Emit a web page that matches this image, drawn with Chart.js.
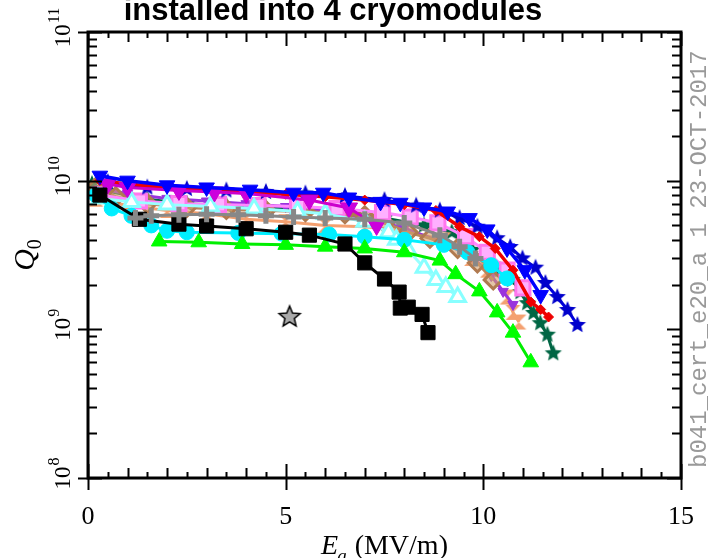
<!DOCTYPE html>
<html>
<head>
<meta charset="utf-8">
<script src="https://cdn.jsdelivr.net/npm/chart.js@4"></script>
<style>
  html, body { margin: 0; padding: 0; background: #fff; }
  #wrap { width: 708px; height: 558px; }
</style>
</head>
<body>
<div id="wrap"><canvas id="q0Chart" width="708" height="558"></canvas></div>
<script>
// axis ranges and ticks
const xMin = 0, xMax = 15;
const yMin = 1e8, yMax = 1e11;
const xLabels = [0, 5, 10, 15];
const yDecades = [8, 9, 10, 11];

// Ea (MV/m) and Q0 per cavity
const blackE = [0.3, 1.3, 2.3, 3.0, 4.0, 5.0, 5.6, 6.5, 7.0, 7.5, 7.87, 7.9, 8.1, 8.45, 8.6];
const blackQ = [8.0e9, 5.5e9, 5.1e9, 4.95e9, 4.75e9, 4.5e9, 4.3e9, 3.75e9, 2.8e9, 2.18e9, 1.78e9, 1.39e9, 1.41e9, 1.26e9, 0.95e9];

const greenE = [1.8, 2.8, 3.9, 5.0, 6.0, 7.0, 8.0, 8.9, 9.3, 9.9, 10.35, 10.75, 11.2];
const greenQ = [3.9e9, 3.85e9, 3.75e9, 3.7e9, 3.6e9, 3.5e9, 3.3e9, 2.9e9, 2.35e9, 1.8e9, 1.3e9, 0.95e9, 0.6e9];

const cyanE = [0.2, 0.6, 1.1, 1.6, 2.0, 2.5, 3.8, 4.9, 6.1, 7.0, 8.0, 9.0, 9.6, 10.2, 10.6];
const cyanQ = [8.0e9, 6.5e9, 5.8e9, 5.0e9, 4.6e9, 4.5e9, 4.45e9, 4.4e9, 4.35e9, 4.2e9, 4.0e9, 3.7e9, 3.3e9, 2.7e9, 2.2e9];

const paleE = [0.3, 1.1, 2.0, 3.1, 4.2, 5.3, 6.0, 7.0, 7.6, 7.8, 8.1, 8.5, 8.8, 9.05, 9.35];
const paleQ = [7.6e9, 7.2e9, 6.9e9, 6.7e9, 6.5e9, 6.2e9, 6.0e9, 5.3e9, 4.5e9, 4.0e9, 3.4e9, 2.6e9, 2.15e9, 1.93e9, 1.65e9];

const blueE = [0.3, 1.0, 2.0, 3.0, 4.1, 5.2, 5.95, 6.6, 7.4, 7.9, 8.5, 9.1, 9.65, 10.1, 10.6, 11.05, 11.45];
const blueQ = [1.08e10, 1.0e10, 9.3e9, 9.0e9, 8.7e9, 8.3e9, 8.3e9, 7.7e9, 7.2e9, 7.1e9, 6.6e9, 6.2e9, 5.6e9, 4.7e9, 3.5e9, 2.5e9, 1.7e9];

const starE = [0.5, 1.5, 2.5, 3.5, 4.5, 5.5, 6.5, 7.5, 8.3, 8.9, 9.4, 9.85, 10.35, 10.68, 10.99, 11.32, 11.57, 11.87, 12.13, 12.38];
const starQ = [9.8e9, 9.0e9, 8.8e9, 8.6e9, 8.4e9, 8.2e9, 7.9e9, 7.4e9, 6.8e9, 6.3e9, 5.6e9, 4.9e9, 4.1e9, 3.58e9, 3.0e9, 2.6e9, 2.05e9, 1.65e9, 1.35e9, 1.07e9];

const redE = [0.3, 1.0, 2.0, 3.0, 4.0, 5.0, 6.0, 7.0, 8.0, 8.8, 9.4, 9.9, 10.3, 10.75, 11.2, 11.45, 11.65];
const redQ = [1.0e10, 9.5e9, 9.0e9, 8.7e9, 8.4e9, 8.1e9, 7.8e9, 7.4e9, 6.9e9, 6.3e9, 4.9e9, 4.2e9, 3.5e9, 2.5e9, 1.53e9, 1.36e9, 1.21e9];

const magE = [0.5, 1.0, 2.3, 3.2, 4.0, 5.6, 6.6, 7.3];
const magQ = [9.5e9, 9.0e9, 8.6e9, 8.4e9, 8.2e9, 7.4e9, 6.55e9, 5.0e9];

const violetE = [0.3, 1.0, 2.0, 3.0, 4.0, 5.0, 6.0, 7.0, 8.0, 9.0, 9.7, 10.2, 10.5, 10.75];
const violetQ = [8.8e9, 8.2e9, 7.6e9, 7.3e9, 7.0e9, 6.7e9, 6.3e9, 5.6e9, 4.8e9, 3.8e9, 3.1e9, 2.3e9, 1.8e9, 1.47e9];

const pinkE = [0.3, 1.3, 2.3, 3.3, 4.3, 5.3, 6.3, 7.45, 8.15, 8.85, 9.55, 10.1, 10.6, 11.0];
const pinkQ = [8.0e9, 7.3e9, 7.0e9, 6.9e9, 6.8e9, 6.7e9, 6.5e9, 6.1e9, 5.7e9, 5.2e9, 4.2e9, 3.3e9, 2.5e9, 1.9e9];

const brownE = [0.2, 0.7, 1.5, 2.5, 3.5, 4.5, 5.5, 6.5, 7.0, 7.5, 8.1, 8.65, 9.35, 9.85, 10.25];
const brownQ = [9.0e9, 7.8e9, 7.0e9, 6.6e9, 6.4e9, 6.3e9, 6.2e9, 6.0e9, 5.8e9, 5.2e9, 4.5e9, 4.1e9, 3.5e9, 2.8e9, 2.15e9];

const grayE = [1.2, 1.6, 2.3, 3.0, 3.8, 4.5, 5.2, 6.0, 7.0, 8.0, 8.9, 9.4, 9.8];
const grayQ = [5.6e9, 5.8e9, 5.9e9, 5.95e9, 5.9e9, 5.8e9, 5.7e9, 5.6e9, 5.5e9, 5.2e9, 4.3e9, 3.6e9, 3.0e9];

const salmonE = [0.2, 1.0, 2.0, 3.0, 4.0, 5.0, 6.0, 7.0, 8.0, 9.0, 9.7, 10.1, 10.6, 10.75, 10.9];
const salmonQ = [7.5e9, 6.8e9, 6.3e9, 6.0e9, 5.5e9, 5.3e9, 5.0e9, 4.9e9, 4.6e9, 4.0e9, 3.0e9, 2.5e9, 1.65e9, 1.3e9, 1.12e9];

const dkgreenE = [0.1, 0.5, 1.5, 2.5, 3.5, 4.5, 5.5, 6.5, 7.5, 8.5, 9.2, 9.72, 10.1, 10.43, 10.73, 10.94, 11.11, 11.27, 11.44, 11.62, 11.77];
const dkgreenQ = [9.5e9, 8.5e9, 7.5e9, 7.0e9, 6.8e9, 6.6e9, 6.4e9, 6.2e9, 5.6e9, 5.0e9, 4.5e9, 3.42e9, 2.8e9, 2.51e9, 2.15e9, 1.78e9, 1.5e9, 1.29e9, 1.1e9, 0.92e9, 0.69e9];

const loneE = [5.1];
const loneQ = [1.21e9];

function pts(xs, ys) {
    return xs.map((x, i) => ({ x: x, y: ys[i] }));
}

function starCanvas(fill, stroke, r) {
    const c = document.createElement('canvas');
    const s = Math.ceil(r * 2 + 4);
    c.width = c.height = s;
    const g = c.getContext('2d');
    g.beginPath();
    for (let i = 0; i < 10; i++) {
        const a = -Math.PI / 2 + i * Math.PI / 5;
        const rr = i % 2 ? r * 0.45 : r;
        g.lineTo(s / 2 + rr * Math.cos(a), s / 2 + rr * Math.sin(a));
    }
    g.closePath();
    g.fillStyle = fill;
    g.fill();
    if (stroke) {
        g.strokeStyle = stroke;
        g.lineWidth = 1.5;
        g.stroke();
    }
    return c;
}

function hourglassCanvas(fill, r) {
    const c = document.createElement('canvas');
    const s = Math.ceil(r * 2 + 2);
    c.width = c.height = s;
    const g = c.getContext('2d');
    const m = s / 2;
    g.beginPath();
    g.moveTo(m - r, m - r); g.lineTo(m + r, m - r); g.lineTo(m, m); g.closePath();
    g.moveTo(m - r, m + r); g.lineTo(m + r, m + r); g.lineTo(m, m); g.closePath();
    g.fillStyle = fill;
    g.fill();
    return c;
}

function series(data, line, opts) {
    return Object.assign({
        data: data,
        showLine: true,
        borderColor: line,
        backgroundColor: line,
        borderWidth: 3,
        pointBorderColor: line,
        pointBackgroundColor: line,
        pointBorderWidth: 1,
        pointRadius: 7,
        tension: 0
    }, opts || {});
}

const datasets = [
    series(pts(grayE, grayQ), '#888888', { pointStyle: 'cross', pointRadius: 8, pointBorderWidth: 5 }),
    series(pts(blackE, blackQ), '#000000', { pointStyle: 'rect', pointRadius: 10 }),
    series(pts(greenE, greenQ), '#00ee00', { pointStyle: 'triangle', pointRadius: 9, pointBackgroundColor: '#00ff00', pointBorderColor: '#00ff00' }),
    series(pts(cyanE, cyanQ), '#00eeff', { pointStyle: 'circle', pointRadius: 7.5 }),
    series(pts(blueE, blueQ), '#0000ff', { pointStyle: 'triangle', rotation: 180, pointRadius: 9, borderWidth: 3.5 }),
    series(pts(magE, magQ), '#cc00cc', { pointStyle: 'triangle', rotation: 180, pointRadius: 10, pointBackgroundColor: '#cc00dd' }),
    series(pts(redE, redQ), '#ee0000', { pointStyle: 'rectRot', pointRadius: 5, borderWidth: 3.5 }),
    series(pts(starE, starQ), '#0000dd', { pointStyle: starCanvas('#0000cc', null, 9) }),
    series(pts(paleE, paleQ), '#99ffff', { pointStyle: 'triangle', pointRadius: 9, pointBorderWidth: 3, pointBackgroundColor: '#ffffff', pointBorderColor: '#88ffff' }),
    series(pts(pinkE, pinkQ), '#ff88ff', { pointStyle: 'rect', pointRadius: 10, pointBorderWidth: 3, pointBackgroundColor: '#ffb0ff', pointBorderColor: '#ff77ee' }),
    series(pts(brownE, brownQ), '#b8865b', { pointStyle: 'rectRot', pointRadius: 9, pointBorderWidth: 3, pointBackgroundColor: 'rgba(210,160,110,0.6)', pointBorderColor: '#b07a50' }),
    series(pts(violetE, violetQ), '#9933dd', { pointStyle: 'triangle', rotation: 180, pointRadius: 6 }),
    series(pts(salmonE, salmonQ), '#f4a070', { pointStyle: hourglassCanvas('#f4a070', 7.5) }),
    series(pts(dkgreenE, dkgreenQ), '#006644', { pointStyle: starCanvas('#006644', null, 9) }),
    series(pts(loneE, loneQ), '#000000', { showLine: false, pointStyle: starCanvas('#aaaaaa', '#000000', 11) })
];

const serif = '"Liberation Serif", "DejaVu Serif", serif';

const framePlugin = {
    id: 'frame',
    afterDatasetsDraw(chart) {
        const ctx = chart.ctx;
        const a = chart.chartArea;
        const xs = chart.scales.x, ys = chart.scales.y;
        ctx.save();
        ctx.strokeStyle = '#000';
        ctx.lineWidth = 2;
        ctx.beginPath();
        // x ticks, bottom and top
        for (let v = xMin; v <= xMax + 1e-9; v += 0.5) {
            const px = Math.round(xs.getPixelForValue(v)) + 0.5;
            const major = Math.abs(v % 5) < 1e-9;
            const whole = Math.abs(v % 1) < 1e-9;
            const len = major ? 14 : (whole ? 10 : 6);
            const out = major ? 12 : 0;
            ctx.moveTo(px, a.bottom + out); ctx.lineTo(px, a.bottom - len);
            ctx.moveTo(px, a.top); ctx.lineTo(px, a.top + len);
        }
        // y ticks, left and right
        for (let d = 8; d <= 11; d++) {
            for (let m = 1; m <= 9; m++) {
                const v = m * Math.pow(10, d);
                if (v > yMax * 1.0001) break;
                const py = Math.round(ys.getPixelForValue(v)) + 0.5;
                const len = m === 1 ? 14 : 9;
                const out = m === 1 ? 10 : 0;
                ctx.moveTo(a.left - out, py); ctx.lineTo(a.left + len, py);
                ctx.moveTo(a.right, py); ctx.lineTo(a.right - len, py);
            }
        }
        ctx.stroke();
        ctx.lineWidth = 3;
        ctx.strokeRect(a.left, a.top, a.right - a.left, a.bottom - a.top);

        // x tick labels
        ctx.fillStyle = '#000';
        ctx.font = '26px ' + serif;
        ctx.textAlign = 'center';
        ctx.textBaseline = 'alphabetic';
        xLabels.forEach(v => {
            ctx.fillText(String(v), xs.getPixelForValue(v), a.bottom + 46);
        });

        // y tick labels: 10^n rotated
        yDecades.forEach(d => {
            const py = ys.getPixelForValue(Math.pow(10, d));
            ctx.save();
            ctx.translate(70, py);
            ctx.rotate(-Math.PI / 2);
            ctx.textAlign = 'left';
            ctx.font = '23px ' + serif;
            const w1 = ctx.measureText('10').width;
            ctx.font = '16px ' + serif;
            const w2 = ctx.measureText(String(d)).width;
            const start = -(w1 + w2) / 2 + 4;
            ctx.font = '23px ' + serif;
            ctx.fillText('10', start, 0);
            ctx.font = '16px ' + serif;
            ctx.fillText(String(d), start + w1 + 1, -11);
            ctx.restore();
        });

        // x title: E_a (MV/m)
        const cx = (a.left + a.right) / 2;
        ctx.textAlign = 'left';
        ctx.font = 'italic 28px ' + serif;
        const wE = ctx.measureText('E').width;
        ctx.font = 'italic 19px ' + serif;
        const wa = ctx.measureText('a').width;
        ctx.font = '28px ' + serif;
        const wr = ctx.measureText(' (MV/m)').width;
        let tx = cx - (wE + wa + wr) / 2;
        const ty = a.bottom + 76;
        ctx.font = 'italic 28px ' + serif;
        ctx.fillText('E', tx, ty);
        ctx.font = 'italic 19px ' + serif;
        ctx.fillText('a', tx + wE - 1, ty + 8);
        ctx.font = '28px ' + serif;
        ctx.fillText(' (MV/m)', tx + wE + wa, ty);

        // y title: Q_0
        ctx.save();
        ctx.translate(34, (a.top + a.bottom) / 2);
        ctx.rotate(-Math.PI / 2);
        ctx.font = 'italic 30px ' + serif;
        const wQ = ctx.measureText('Q').width;
        ctx.fillText('Q', -(wQ + 10) / 2, 0);
        ctx.font = '20px ' + serif;
        ctx.fillText('0', -(wQ + 10) / 2 + wQ, 7);
        ctx.restore();

        // title, cut at the top edge
        ctx.font = 'bold 31px "Liberation Sans", Arial, sans-serif';
        ctx.textAlign = 'center';
        ctx.fillText('installed into 4 cryomodules', 333, 20);

        // run stamp on the right
        ctx.save();
        ctx.translate(706, 468);
        ctx.rotate(-Math.PI / 2);
        ctx.fillStyle = '#999999';
        ctx.font = '24px "Liberation Mono", "DejaVu Sans Mono", monospace';
        ctx.textAlign = 'left';
        ctx.fillText('b041_cert_e20_a 1 23-OCT-2017', 0, 0);
        ctx.restore();

        ctx.restore();
    }
};

new Chart(document.getElementById('q0Chart').getContext('2d'), {
    type: 'scatter',
    data: { datasets: datasets },
    options: {
        responsive: false,
        animation: false,
        layout: { padding: { left: 88, right: 27, top: 32, bottom: 80 } },
        plugins: {
            legend: { display: false },
            tooltip: { enabled: false }
        },
        scales: {
            x: { type: 'linear', min: xMin, max: xMax, display: false },
            y: { type: 'logarithmic', min: yMin, max: yMax, display: false }
        }
    },
    plugins: [framePlugin]
});
</script>
</body>
</html>
